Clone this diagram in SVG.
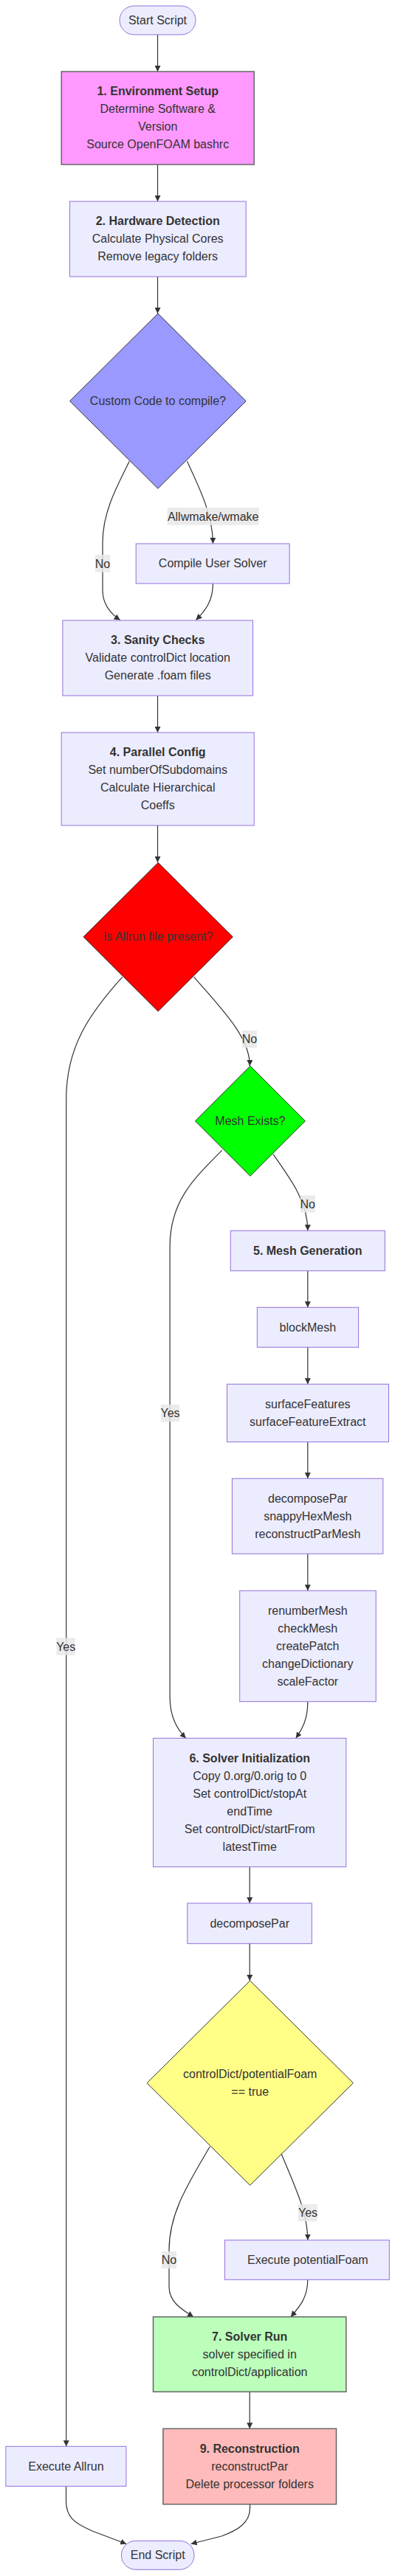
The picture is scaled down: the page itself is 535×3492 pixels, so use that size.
<svg xmlns="http://www.w3.org/2000/svg" width="535" height="3492" viewBox="0 0 535 3492">
<style>
text{font-family:"Liberation Sans",Arial,Helvetica,sans-serif;font-size:16px;fill:#333;text-anchor:middle}
.b{font-weight:bold}
.n{fill:#ECECFF;stroke:#9370DB;stroke-width:1}
.s{stroke:#666;stroke-width:1.5}
.d{stroke:#333;stroke-width:1}
.e{fill:none;stroke:#333;stroke-width:1.2}
.lb{fill:#e8e8e8;opacity:0.85}
</style>
<defs>
<marker id="arr" viewBox="0 0 10 10" refX="10" refY="5" markerUnits="userSpaceOnUse" markerWidth="8" markerHeight="8" orient="auto">
<path d="M0,0 L10,5 L0,10 z" fill="#333"/>
</marker>
</defs>
<g id="edges">
<path class="e" marker-end="url(#arr)" d="M213.5,47 L213.5,97"/>
<path class="e" marker-end="url(#arr)" d="M213.5,223 L213.5,273"/>
<path class="e" marker-end="url(#arr)" d="M213.5,375 L213.5,425"/>
<path class="e" marker-end="url(#arr)" d="M175.3,625.3 C158,660 139,695 139,735 L139,800 C139,820 150,832 162.7,840.5"/>
<path class="e" marker-end="url(#arr)" d="M253.4,625.3 C272,665 288.4,700 288.4,737"/>
<path class="e" marker-end="url(#arr)" d="M288.4,791 C288.4,815 278,828 265.4,840.5"/>
<path class="e" marker-end="url(#arr)" d="M213.5,943 L213.5,993"/>
<path class="e" marker-end="url(#arr)" d="M213.5,1119 L213.5,1169"/>
<path class="e" marker-end="url(#arr)" d="M262.7,1324.3 C300,1368 338.4,1405 338.4,1445"/>
<path class="e" marker-end="url(#arr)" d="M165.8,1324.3 C120,1375 89.7,1420 89.7,1490 L89.7,3316.3"/>
<path class="e" marker-end="url(#arr)" d="M369.9,1564.7 C395,1600 416.8,1630 416.8,1668.3"/>
<path class="e" marker-end="url(#arr)" d="M300.7,1559.3 C260,1600 230.1,1630 230.1,1690 L230.1,2300 C230.1,2328 240,2344 251.7,2356.3"/>
<path class="e" marker-end="url(#arr)" d="M416.8,1722.7 L416.8,1772.3"/>
<path class="e" marker-end="url(#arr)" d="M416.8,1826.3 L416.8,1876.3"/>
<path class="e" marker-end="url(#arr)" d="M416.8,1954.7 L416.8,2004.3"/>
<path class="e" marker-end="url(#arr)" d="M416.8,2106.3 L416.8,2156.3"/>
<path class="e" marker-end="url(#arr)" d="M416.8,2306.7 C416.8,2330 410,2343 400.7,2356.3"/>
<path class="e" marker-end="url(#arr)" d="M338.2,2530.7 L338.2,2580"/>
<path class="e" marker-end="url(#arr)" d="M338.2,2634.7 L338.2,2685"/>
<path class="e" marker-end="url(#arr)" d="M381.2,2920 C400,2965 416.8,3000 416.8,3036.7"/>
<path class="e" marker-end="url(#arr)" d="M284.2,2910 C255,2960 229,3000 229,3050 L229,3100 C229,3120 245,3130 262,3140.7"/>
<path class="e" marker-end="url(#arr)" d="M416.8,3090.3 C416.8,3115 405,3128 393.8,3140.7"/>
<path class="e" marker-end="url(#arr)" d="M338.2,3242.3 L338.2,3292.3"/>
<path class="e" marker-end="url(#arr)" d="M89.5,3370.3 L89.5,3390 C89.5,3412 100,3420 125,3431 L171.2,3448.5"/>
<path class="e" marker-end="url(#arr)" d="M338.5,3394.7 L338.5,3400 C338.5,3420 322,3430 300,3438 L258.6,3448.5"/>
</g>
<g id="edge-labels">
<rect class="lb" x="226.7" y="688" width="124" height="23.7"/><text x="288.7" y="705.5">Allwmake/wmake</text>
<rect class="lb" x="128.8" y="752" width="20.5" height="23.7"/><text x="139" y="769.5">No</text>
<rect class="lb" x="328" y="1397" width="20" height="23.3"/><text x="338" y="1414.3">No</text>
<rect class="lb" x="406.8" y="1620.3" width="20" height="23.4"/><text x="416.8" y="1637.5">No</text>
<rect class="lb" x="217.8" y="1904" width="25.4" height="23.3"/><text x="230.5" y="1921.2">Yes</text>
<rect class="lb" x="76.4" y="2220.3" width="25.6" height="23.4"/><text x="89.2" y="2237.5">Yes</text>
<rect class="lb" x="404" y="2988" width="25.8" height="23.3"/><text x="417" y="3005.2">Yes</text>
<rect class="lb" x="218.8" y="3052" width="20.2" height="23.3"/><text x="229" y="3069.2">No</text>
</g>
<g id="start"><rect class="n" x="162" y="8" width="103" height="39" rx="19.5"/><text x="213.5" y="32.5">Start Script</text></g>
<g id="env"><rect x="83.2" y="97" width="261" height="126" fill="#ff99ff" class="s"/>
<text class="b" x="213.7" y="128.5">1. Environment Setup</text><text x="213.7" y="152.5">Determine Software &amp;</text><text x="213.7" y="176.5">Version</text><text x="213.7" y="200.5">Source OpenFOAM bashrc</text></g>
<g id="hw"><rect class="n" x="94.5" y="273" width="238.7" height="102"/>
<text class="b" x="213.7" y="304.8">2. Hardware Detection</text><text x="213.7" y="328.8">Calculate Physical Cores</text><text x="213.7" y="352.8">Remove legacy folders</text></g>
<g id="custom"><polygon class="d" fill="#9999ff" points="213.9,425 333.2,543.7 213.9,662.3 94.5,543.7"/><text x="213.9" y="548.8">Custom Code to compile?</text></g>
<g id="compile"><rect class="n" x="184.2" y="737" width="207.9" height="54"/><text x="288.2" y="768.8">Compile User Solver</text></g>
<g id="sanity"><rect class="n" x="84.9" y="841" width="257.6" height="102"/>
<text class="b" x="213.7" y="872.8">3. Sanity Checks</text><text x="213.7" y="896.8">Validate controlDict location</text><text x="213.7" y="920.8">Generate .foam files</text></g>
<g id="parallel"><rect class="n" x="83.2" y="993" width="261" height="126"/>
<text class="b" x="213.7" y="1024.8">4. Parallel Config</text><text x="213.7" y="1048.8">Set numberOfSubdomains</text><text x="213.7" y="1072.8">Calculate Hierarchical</text><text x="213.7" y="1096.8">Coeffs</text></g>
<g id="allrun"><polygon class="d" fill="#ff0000" points="214.2,1169.3 315.4,1270 214.2,1371 113,1270"/><text x="214.2" y="1274.8">Is Allrun file present?</text></g>
<g id="mesh"><polygon class="d" fill="#00ff00" points="338.9,1445 413.4,1519.7 338.9,1594.3 264.4,1519.7"/><text x="338.9" y="1524.8">Mesh Exists?</text></g>
<g id="meshgen"><rect class="n" x="312.3" y="1668.3" width="209" height="54.4"/><text class="b" x="416.8" y="1700.8">5. Mesh Generation</text></g>
<g id="blockmesh"><rect class="n" x="348.3" y="1772.3" width="137.3" height="54"/><text x="416.8" y="1804.8">blockMesh</text></g>
<g id="surface"><rect class="n" x="307.5" y="1876.3" width="219" height="78.4"/><text x="416.8" y="1908.8">surfaceFeatures</text><text x="416.8" y="1932.8">surfaceFeatureExtract</text></g>
<g id="snappy"><rect class="n" x="314.4" y="2004.3" width="204.4" height="102"/><text x="416.8" y="2036.8">decomposePar</text><text x="416.8" y="2060.8">snappyHexMesh</text><text x="416.8" y="2084.8">reconstructParMesh</text></g>
<g id="renumber"><rect class="n" x="324.7" y="2156.3" width="184.5" height="150.4"/><text x="416.8" y="2188.8">renumberMesh</text><text x="416.8" y="2212.8">checkMesh</text><text x="416.8" y="2236.8">createPatch</text><text x="416.8" y="2260.8">changeDictionary</text><text x="416.8" y="2284.8">scaleFactor</text></g>
<g id="solverinit"><rect class="n" x="207.5" y="2356.3" width="261.3" height="174.4"/>
<text class="b" x="338.2" y="2389.2">6. Solver Initialization</text><text x="338.2" y="2413.2">Copy 0.org/0.orig to 0</text><text x="338.2" y="2437.2">Set controlDict/stopAt</text><text x="338.2" y="2461.2">endTime</text><text x="338.2" y="2485.2">Set controlDict/startFrom</text><text x="338.2" y="2509.2">latestTime</text></g>
<g id="decompose"><rect class="n" x="253.8" y="2580" width="168.5" height="54.7"/><text x="338.2" y="2612.8">decomposePar</text></g>
<g id="potentialq"><polygon class="d" fill="#ffff88" points="338.7,2685 478.4,2823.7 338.7,2962.3 199,2823.7"/><text x="338.7" y="2817.2">controlDict/potentialFoam</text><text x="338.7" y="2841.2">== true</text></g>
<g id="potential"><rect class="n" x="304.5" y="3036.7" width="222.8" height="53.6"/><text x="416.8" y="3068.8">Execute potentialFoam</text></g>
<g id="solverrun"><rect x="207.5" y="3140.7" width="261.3" height="101.6" fill="#bbffbb" class="s"/>
<text class="b" x="338.2" y="3172.8">7. Solver Run</text><text x="338.2" y="3196.8">solver specified in</text><text x="338.2" y="3220.8">controlDict/application</text></g>
<g id="recon"><rect x="220.9" y="3292.3" width="234.6" height="102.4" fill="#ffbbbb" class="s"/>
<text class="b" x="338.2" y="3324.8">9. Reconstruction</text><text x="338.2" y="3348.8">reconstructPar</text><text x="338.2" y="3372.8">Delete processor folders</text></g>
<g id="execallrun"><rect class="n" x="7.9" y="3316.3" width="163" height="54"/><text x="89.4" y="3348.8">Execute Allrun</text></g>
<g id="end"><rect class="n" x="164.4" y="3444.3" width="98.6" height="39" rx="19.5"/><text x="213.7" y="3469">End Script</text></g>
</svg>
